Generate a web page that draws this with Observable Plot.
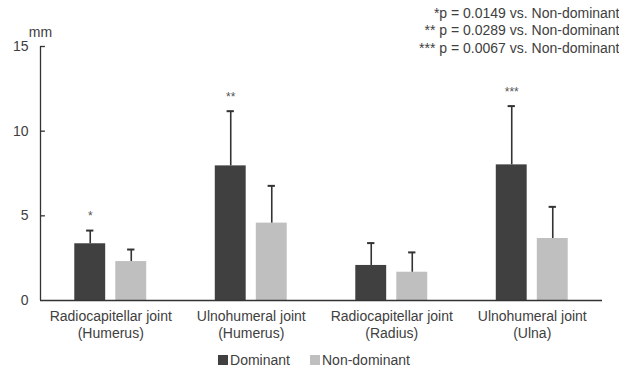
<!DOCTYPE html>
<html>
<head>
<meta charset="utf-8">
<script src="https://cdn.jsdelivr.net/npm/d3@7"></script>
<script src="https://cdn.jsdelivr.net/npm/@observablehq/plot@0.6"></script>
<style>
  html, body { margin: 0; padding: 0; background: #fff; }
  body { width: 619px; height: 368px; overflow: hidden; font-family: "Liberation Sans", Arial, sans-serif; }
  #legend { display: flex; justify-content: center; align-items: center; height: 16px; margin-top: 2px; font-size: 14px; color: #404040; margin-left: 9px; }
  .item { display: flex; align-items: center; margin: 0 10px; }
  .sw { width: 10px; height: 10px; margin-right: 2px; }
</style>
</head>
<body>
<div id="chart"></div>
<div id="legend"></div>
<script>
const categories = ["Radiocapitellar joint\n(Humerus)", "Ulnohumeral joint\n(Humerus)", "Radiocapitellar joint\n(Radius)", "Ulnohumeral joint\n(Ulna)"];
const series = ["Dominant", "Non-dominant"];
const dominantMean = [3.35, 7.95, 2.07, 8.01];
const dominantSD = [0.78, 3.23, 1.32, 3.47];
const nonDominantMean = [2.30, 4.57, 1.67, 3.66];
const nonDominantSD = [0.71, 2.20, 1.17, 1.87];
const significance = ["*", "**", "", "***"];
const pNotes = ["*p = 0.0149 vs. Non-dominant", "** p = 0.0289 vs. Non-dominant", "*** p = 0.0067 vs. Non-dominant"];
const yTicks = [0, 5, 10, 15];
const colors = ["#404040", "#bfbfbf"];

const rows = [];
categories.forEach((c, i) => {
  rows.push({i, series: series[0], side: -1, mean: dominantMean[i], sd: dominantSD[i], sig: significance[i]});
  rows.push({i, series: series[1], side: 1, mean: nonDominantMean[i], sd: nonDominantSD[i], sig: ""});
});

// layout constants (in group-index units)
const barOuter = 0.256, barInner = 0.036, capHalf = 0.026;
const center = d => d.i + d.side * (barOuter + barInner) / 2;
const font = "Liberation Sans, Arial, sans-serif";
const ink = "#404040";

const chart = Plot.plot({
  width: 619,
  height: 350,
  marginTop: 46,
  marginBottom: 50,
  marginLeft: 40,
  marginRight: 17,
  style: {fontFamily: font, fontSize: "14px", color: ink, background: "#fff"},
  x: {domain: [-0.5, categories.length - 0.5], axis: null},
  y: {domain: [0, 15], axis: null, label: null},
  marks: [
    Plot.rectY(rows, {
      x1: d => d.side < 0 ? d.i - barOuter : d.i + barInner,
      x2: d => d.side < 0 ? d.i - barInner : d.i + barOuter,
      y1: 0, y2: "mean",
      fill: d => colors[series.indexOf(d.series)]
    }),
    Plot.ruleX(rows, {x: center, y1: "mean", y2: d => d.mean + d.sd, stroke: "#333", strokeWidth: 1.6}),
    Plot.ruleY(rows, {y: d => d.mean + d.sd, x1: d => center(d) - capHalf, x2: d => center(d) + capHalf, stroke: "#333", strokeWidth: 2}),
    Plot.text(rows.filter(d => d.sig), {x: center, y: d => d.mean + d.sd, text: "sig", dy: -14, fontSize: 12, fill: "#555"}),
    Plot.ruleY([0], {stroke: "#333", strokeWidth: 1.3}),
    Plot.ruleX([-0.5], {y1: 0, y2: 15, stroke: "#333", strokeWidth: 1.3}),
    Plot.ruleY(yTicks.slice(1), {x1: -0.5, x2: -0.5 + 0.035, stroke: "#333", strokeWidth: 1.3}),
    Plot.axisY(yTicks, {tickSize: 0, tickPadding: 12, fontSize: 14, fill: ink, label: null}),
    Plot.text(categories, {x: (d, i) => i, frameAnchor: "bottom", lineAnchor: "top", dy: 9, lineHeight: 1.2, fontSize: 14, fill: ink}),
    Plot.text(["mm"], {frameAnchor: "top-left", textAnchor: "middle", dy: -19, fontSize: 14, fill: ink}),
    Plot.text([pNotes.join("\n")], {frameAnchor: "top-right", textAnchor: "end", lineAnchor: "top", dx: 17, dy: -41, lineHeight: 1.25, fontSize: 14, fill: ink})
  ]
});
document.getElementById("chart").appendChild(chart);

const legend = document.getElementById("legend");
series.forEach((s, k) => {
  const item = document.createElement("div");
  item.className = "item";
  const sw = document.createElement("span");
  sw.className = "sw";
  sw.style.background = colors[k];
  const t = document.createElement("span");
  t.textContent = s;
  item.appendChild(sw);
  item.appendChild(t);
  legend.appendChild(item);
});
</script>
</body>
</html>
